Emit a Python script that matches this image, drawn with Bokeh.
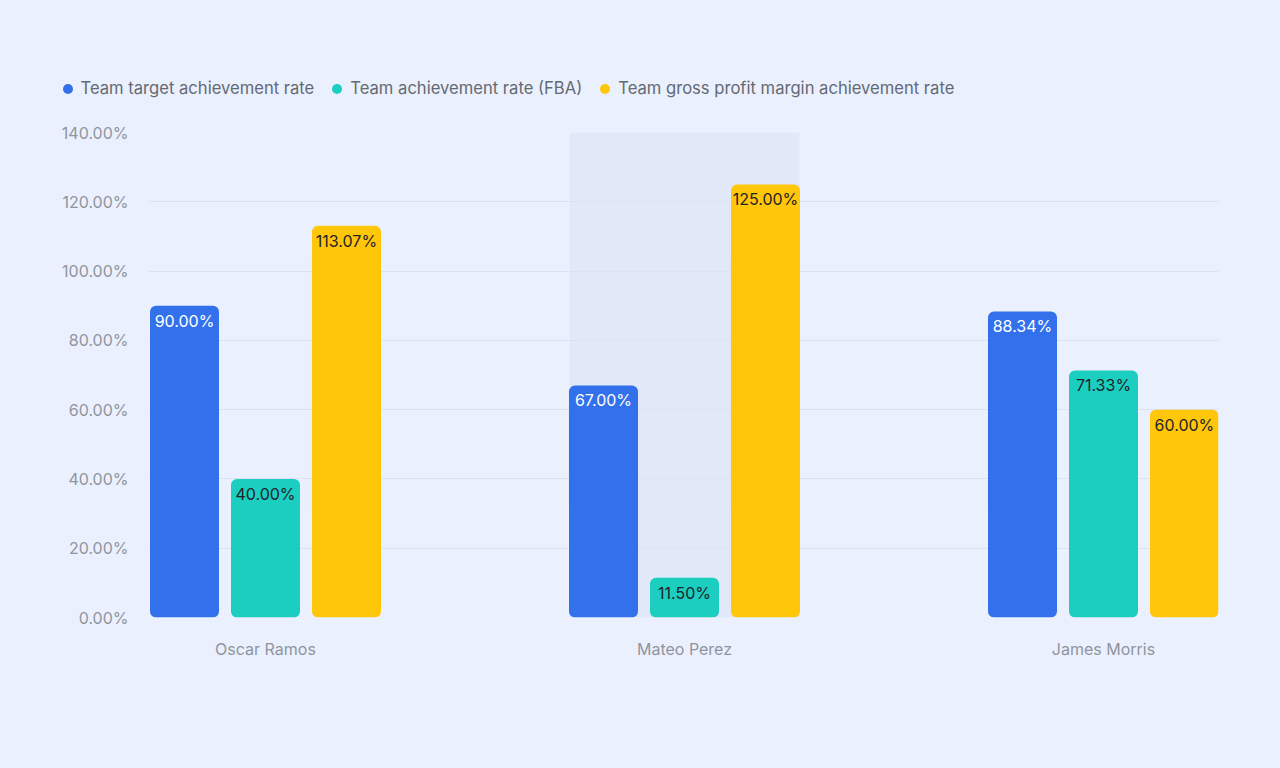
from bokeh.plotting import figure
from bokeh.models import (ColumnDataSource, FixedTicker, PrintfTickFormatter, Legend, LegendItem, Range1d)
from bokeh.transform import dodge
from bokeh.core.properties import value
from bokeh.embed import file_html
from bokeh.resources import INLINE

names = ["Oscar Ramos", "Mateo Perez", "James Morris"]
target_rate = [90.00, 67.00, 88.34]
fba_rate = [40.00, 11.50, 71.33]
gross_rate = [113.07, 125.00, 60.00]
series_names = ["Team target achievement rate", "Team achievement rate (FBA)",
                "Team gross profit margin achievement rate"]
colors = ["#3370EB", "#1BCEBF", "#FFC60A"]
label_colors = ["#FFFFFF", "#1F2329", "#1F2329"]
y_ticks = [0, 20, 40, 60, 80, 100, 120, 140]
highlight_index = 1

BG = "#EAF0FD"
FONT = "Inter"
FS = "16px"

idx = list(range(len(names)))
src = ColumnDataSource(dict(
    x=idx, target=target_rate, fba=fba_rate, gross=gross_rate,
    target_lbl=[f"{v:.2f}%" for v in target_rate],
    fba_lbl=[f"{v:.2f}%" for v in fba_rate],
    gross_lbl=[f"{v:.2f}%" for v in gross_rate],
))

# ---------- legend strip (separate root so its frame spans the full width) ----------
LH = 120
lg = figure(width=1264, height=LH, output_backend="svg", toolbar_location=None,
            x_range=Range1d(0, 1), y_range=Range1d(0, 1),
            min_border=0, x_axis_type=None, y_axis_type=None)
lg.background_fill_color = BG
lg.border_fill_color = BG
lg.outline_line_color = None
lg.grid.visible = False
dummies = []
for c in colors:
    # dummy point outside the visible range, only used for the legend glyph
    d = lg.scatter(x=[-5], y=[-5], marker="circle", size=10, fill_color=c, line_color=None)
    dummies.append(d)
legend = Legend(items=[LegendItem(label=n, renderers=[d]) for n, d in zip(series_names, dummies)],
                orientation="horizontal", location=(54.5, 19.5),
                glyph_width=25, glyph_height=25, label_standoff=1, spacing=10,
                padding=0, margin=0, background_fill_alpha=0, border_line_color=None,
                label_text_font=FONT, label_text_font_size="16.6px", label_text_color="#646A73")
lg.add_layout(legend, "center")

# ---------- main chart ----------
p = figure(width=1264, height=752 - LH, output_backend="svg", toolbar_location=None,
           x_range=Range1d(-0.2792, 2.2745), y_range=Range1d(0, 140),
           min_border_left=148, min_border_right=46, min_border_top=132 - LH, min_border_bottom=135)
p.background_fill_color = BG
p.border_fill_color = BG
p.outline_line_color = None

p.quad(left=[highlight_index - 0.2745], right=[highlight_index + 0.2745], bottom=[0], top=[140],
       fill_color="#E1E8F7", line_color=None, level="underlay")

bw = 0.1647
off = 0.1933
fields = ["target", "fba", "gross"]
offsets = [-off, 0, off]
for f, o, c, lc in zip(fields, offsets, colors, label_colors):
    p.vbar(x=dodge("x", o, range=p.x_range), top=f, bottom=0, width=bw, source=src,
           fill_color=c, line_color=None, border_radius=6)
    p.text(x=dodge("x", o, range=p.x_range), y=f, text=f + "_lbl", source=src,
           text_align="center", text_baseline="middle", y_offset=15,
           text_font=value(FONT), text_font_size=FS, text_color=lc)

p.xgrid.grid_line_color = None
p.ygrid.grid_line_color = "#DCE2EF"
p.ygrid.ticker = FixedTicker(ticks=y_ticks)

p.yaxis.ticker = FixedTicker(ticks=y_ticks)
p.yaxis.formatter = PrintfTickFormatter(format="%.2f%%")
p.yaxis.axis_line_color = None
p.yaxis.major_tick_line_color = None
p.yaxis.minor_tick_line_color = None
p.yaxis.major_tick_out = 0
p.yaxis.minor_tick_out = 0
p.yaxis.major_label_standoff = 20
p.yaxis.major_label_text_font = FONT
p.yaxis.major_label_text_font_size = FS
p.yaxis.major_label_text_color = "#8F959E"

p.xaxis.ticker = FixedTicker(ticks=idx)
p.xaxis.major_label_overrides = {i: n for i, n in zip(idx, names)}
p.xaxis.axis_line_color = None
p.xaxis.major_tick_line_color = None
p.xaxis.minor_tick_line_color = None
p.xaxis.major_tick_out = 0
p.xaxis.minor_tick_out = 0
p.xaxis.major_label_standoff = 21
p.xaxis.major_label_text_font = FONT
p.xaxis.major_label_text_font_size = FS
p.xaxis.major_label_text_color = "#8F959E"

html = file_html([lg, p], INLINE)
html = html.replace("<body>", '<body style="background:%s">' % BG, 1)
html = html.replace("<html", '<html style="background:%s"' % BG, 1)
open("out.html", "w").write(html)
